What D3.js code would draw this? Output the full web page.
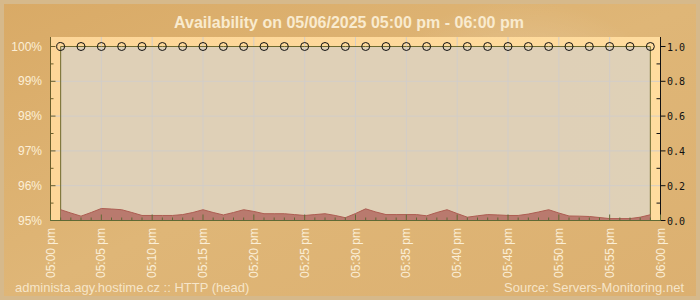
<!DOCTYPE html>
<html><head><meta charset="utf-8">
<script src="https://cdn.jsdelivr.net/npm/d3@7"></script>
<style>html,body{margin:0;padding:0;background:#dcb171;}svg{display:block;}</style>
</head><body>
<svg id="c" width="700" height="300"></svg>
<script>
const titleText = "Availability on 05/06/2025 05:00 pm - 06:00 pm";
const footerLeft = "administa.agy.hostime.cz :: HTTP (head)";
const footerRight = "Source: Servers-Monitoring.net";
// availability checks: minutes after 17:00
const checkMinutes = [1,3,5,7,9,11,13,15,17,19,21,23,25,27,29,31,33,35,37,39,41,43,45,47,49,51,53,55,57,59];
const availability = [100,100,100,100,100,100,100,100,100,100,100,100,100,100,100,100,100,100,100,100,100,100,100,100,100,100,100,100,100,100];
// response time (right axis) per minute 1..59
const rtMinutes = d3.range(1, 60);
const responseTime = [0.062,0.043,0.025,0.046,0.069,0.066,0.062,0.046,0.029,0.029,0.029,0.029,0.034,0.046,0.062,0.046,0.032,0.046,0.062,0.052,0.039,0.039,0.039,0.034,0.029,0.034,0.039,0.029,0.016,0.040,0.067,0.049,0.034,0.034,0.034,0.034,0.027,0.046,0.062,0.040,0.019,0.027,0.034,0.032,0.029,0.029,0.037,0.049,0.062,0.043,0.026,0.025,0.023,0.017,0.011,0.011,0.011,0.019,0.033];
const leftTicks = [95,96,97,98,99,100];
const rightTicks = [0,0.2,0.4,0.6,0.8,1.0];

const svg = d3.select("#c");
const t0 = new Date(2025,4,6,17,0), t1 = new Date(2025,4,6,18,0);
const tm = m => new Date(t0.getTime() + m*60000);
const x = d3.scaleTime().domain([t0,t1]).range([50.5,660.5]);
const yL = d3.scaleLinear().domain([95,100]).range([220.5,46.5]);
const yR = d3.scaleLinear().domain([0,1]).range([220.5,46.5]);

// background
const defs = svg.append("defs");
const bg = defs.append("linearGradient").attr("id","bg").attr("x1","0").attr("y1","0").attr("x2","1").attr("y2","1");
bg.append("stop").attr("offset","0").attr("stop-color","#d9aa66");
bg.append("stop").attr("offset","0.5").attr("stop-color","#dfb677");
bg.append("stop").attr("offset","1").attr("stop-color","#dcb070");
const hl = defs.append("radialGradient").attr("id","hl").attr("cx","0.5").attr("cy","0.5").attr("r","0.5");
hl.append("stop").attr("offset","0").attr("stop-color","#fff").attr("stop-opacity",0.22);
hl.append("stop").attr("offset","1").attr("stop-color","#fff").attr("stop-opacity",0);
const pg = defs.append("linearGradient").attr("id","pg").attr("x1","0").attr("y1","0").attr("x2","1").attr("y2","0");
pg.append("stop").attr("offset","0").attr("stop-color","#fdd698");
pg.append("stop").attr("offset","1").attr("stop-color","#ffdc9e");

svg.append("rect").attr("x",2).attr("y",2).attr("width",696).attr("height",296)
  .attr("fill","url(#bg)").attr("stroke","#d6b98b").attr("stroke-width",4);
svg.append("ellipse").attr("cx",520).attr("cy",90).attr("rx",140).attr("ry",90).attr("fill","url(#hl)");

// title
svg.append("text").attr("x",349).attr("y",28).attr("text-anchor","middle")
  .attr("font-family","Liberation Sans, Arial, sans-serif").attr("font-weight","bold").attr("font-size",16)
  .attr("fill","#f9ebcf").text(titleText);

// panel
svg.append("rect").attr("x",x(t0)).attr("y",37).attr("width",x(t1)-x(t0)).attr("height",yL(95)-37)
  .attr("fill","url(#pg)");

// availability area
const availData = checkMinutes.map((m,i)=>({t:tm(m), v:availability[i]}));
svg.append("path").datum(availData)
  .attr("d", d3.area().x(d=>x(d.t)).y0(yL(95)).y1(d=>yL(d.v)))
  .attr("fill","#ddd0b8").attr("fill-opacity",0.95);

// grid
const g = svg.append("g");
const gridTimes = d3.range(5,60,5).map(tm);
g.selectAll(".vg").data(gridTimes).join("line")
  .attr("x1",d=>x(d)).attr("x2",d=>x(d)).attr("y1",37).attr("y2",yL(95))
  .attr("stroke","#d2cdc8").attr("stroke-width",1);
g.selectAll(".hg").data(leftTicks.slice(1,5)).join("line")
  .attr("x1",x(t0)).attr("x2",x(t1)).attr("y1",d=>yL(d)).attr("y2",d=>yL(d))
  .attr("stroke","#d2cdc8").attr("stroke-width",1);

// availability outline
svg.append("path").datum(availData)
  .attr("d", d => {
    const p = d3.path();
    p.moveTo(x(d[0].t), yL(95)); p.lineTo(x(d[0].t), yL(d[0].v));
    d.forEach(e=>p.lineTo(x(e.t), yL(e.v)));
    p.lineTo(x(d[d.length-1].t), yL(95));
    return p.toString();
  })
  .attr("fill","none").attr("stroke","#6f6a2e").attr("stroke-width",1);

// response time area
const rtData = rtMinutes.map((m,i)=>({t:tm(m), v:responseTime[i]}));
svg.append("path").datum(rtData)
  .attr("d", d3.area().x(d=>x(d.t)).y0(yR(0)).y1(d=>yR(d.v)))
  .attr("fill","#b97a6e");
svg.append("path").datum(rtData)
  .attr("d", d3.line().x(d=>x(d.t)).y(d=>yR(d.v)))
  .attr("fill","none").attr("stroke","#ad5d52").attr("stroke-width",1);

// axes
const axisCol = "#6b5e2a";
// left axis
const la = svg.append("g");
la.append("line").attr("x1",x(t0)).attr("x2",x(t0)).attr("y1",37).attr("y2",yL(95)).attr("stroke",axisCol);
la.selectAll(".mj").data(leftTicks).join("line")
  .attr("x1",x(t0)).attr("x2",x(t0)+5).attr("y1",d=>yL(d)).attr("y2",d=>yL(d)).attr("stroke",axisCol);
la.selectAll(".mn").data(leftTicks.slice(0,5).map(d=>d+0.5)).join("line")
  .attr("x1",x(t0)).attr("x2",x(t0)+3).attr("y1",d=>yL(d)).attr("y2",d=>yL(d)).attr("stroke",axisCol);
la.selectAll("text").data(leftTicks).join("text")
  .attr("x",42).attr("y",d=>yL(d)+4).attr("text-anchor","end")
  .attr("font-family","Liberation Sans, Arial, sans-serif").attr("font-size",12).attr("fill","#fcefd6")
  .text(d=>d+"%");

// right axis
const ra = svg.append("g");
ra.append("line").attr("x1",x(t1)).attr("x2",x(t1)).attr("y1",37).attr("y2",yR(0)).attr("stroke","#111");
ra.selectAll(".mj").data(rightTicks).join("line")
  .attr("x1",x(t1)).attr("x2",x(t1)+5).attr("y1",d=>yR(d)).attr("y2",d=>yR(d)).attr("stroke","#111");
ra.selectAll(".mn").data(rightTicks.slice(0,5).map(d=>d+0.1)).join("line")
  .attr("x1",x(t1)-4).attr("x2",x(t1)).attr("y1",d=>yR(d)).attr("y2",d=>yR(d)).attr("stroke","#111");
ra.selectAll("text").data(rightTicks).join("text")
  .attr("x",667).attr("y",d=>yR(d)+4)
  .attr("font-family","DejaVu Sans Mono, monospace").attr("font-size",10).attr("fill","#111")
  .text(d=>d3.format(".1f")(d));

// bottom axis
const ba = svg.append("g");
ba.append("line").attr("x1",x(t0)).attr("x2",x(t1)).attr("y1",yL(95)).attr("y2",yL(95)).attr("stroke","#5f6a35");
ba.selectAll(".tk").data(d3.range(0,61).map(tm)).join("line")
  .attr("x1",d=>x(d)).attr("x2",d=>x(d)).attr("y1",yL(95))
  .attr("y2",(d,i)=> yL(95) - (i%5===0?6:3)).attr("stroke","#5f6a35");
const fmt = d3.timeFormat("%I:%M");
ba.selectAll("text").data(d3.range(0,61,5).map(tm)).join("text")
  .attr("transform",d=>`translate(${x(d)+4},228) rotate(-90)`)
  .attr("text-anchor","end")
  .attr("font-family","Liberation Sans, Arial, sans-serif").attr("font-size",12).attr("fill","#fbeed6")
  .text(d=>fmt(d)+" pm");

// points
svg.append("g").selectAll("circle").data(availData).join("circle")
  .attr("cx",d=>x(d.t)).attr("cy",d=>yL(d.v)).attr("r",4)
  .attr("fill","none").attr("stroke","#111").attr("stroke-width",1);

// footer
svg.append("text").attr("x",15).attr("y",292)
  .attr("font-family","Liberation Sans, Arial, sans-serif").attr("font-size",13).attr("fill","#fbefd9").attr("fill-opacity",0.85)
  .text(footerLeft);
svg.append("text").attr("x",684).attr("y",292).attr("text-anchor","end")
  .attr("font-family","Liberation Sans, Arial, sans-serif").attr("font-size",13).attr("fill","#fbefd9").attr("fill-opacity",0.85)
  .text(footerRight);
</script>
</body></html>
